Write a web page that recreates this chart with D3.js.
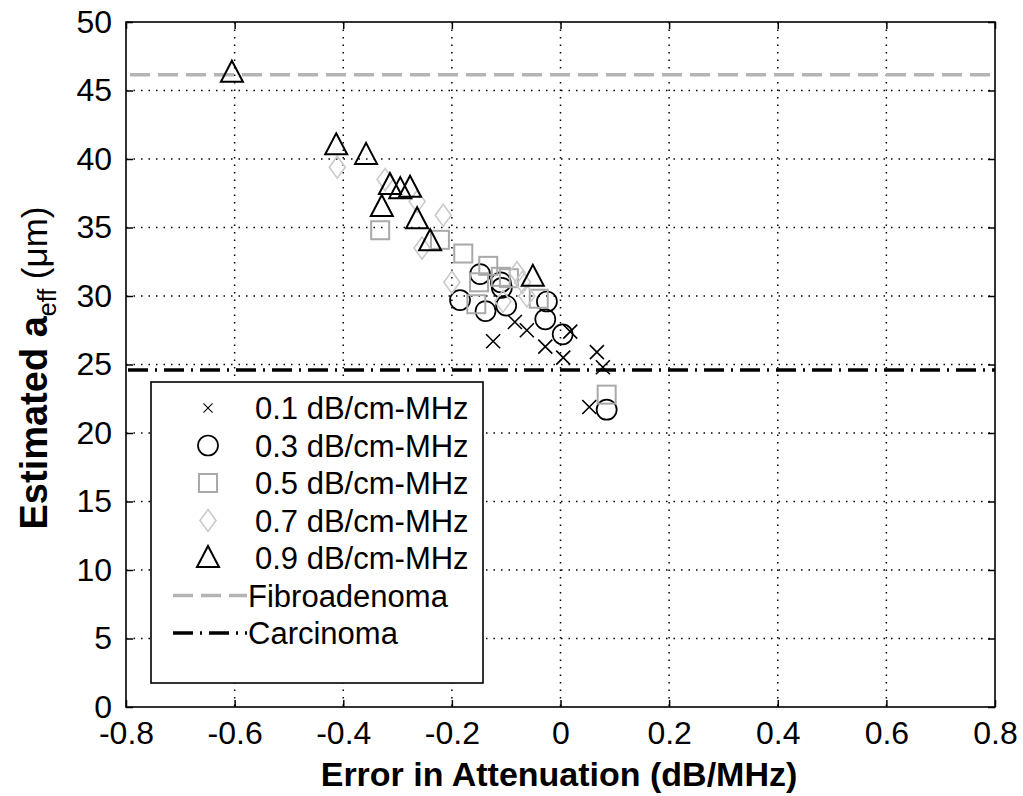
<!DOCTYPE html>
<html>
<head>
<meta charset="utf-8">
<script src="https://cdn.jsdelivr.net/npm/d3@7"></script>
<style>
  body { margin: 0; background: #fff; }
  text { font-family: "Liberation Sans", Arial, sans-serif; fill: #000; }
</style>
</head>
<body>
<div id="chart"></div>
<script>
const dimensions = ({
  height: 685,
  width: 869,
  margin: { top: 22, right: 28, bottom: 89, left: 126 }
})

// data
const xTicks = [-0.8, -0.6, -0.4, -0.2, 0, 0.2, 0.4, 0.6, 0.8]
const yTicks = [0, 5, 10, 15, 20, 25, 30, 35, 40, 45, 50]

const seriesNames = ['0.1 dB/cm-MHz', '0.3 dB/cm-MHz', '0.5 dB/cm-MHz', '0.7 dB/cm-MHz', '0.9 dB/cm-MHz']

const crossX = [-0.124, -0.084, -0.062, -0.028, 0.005, 0.018, 0.067, 0.078, 0.053]
const crossY = [26.7, 28.1, 27.5, 26.3, 25.5, 27.4, 25.9, 24.8, 21.9]

const circleX = [-0.185, -0.148, -0.138, -0.110, -0.100, -0.108, -0.025, -0.028, 0.004, 0.085]
const circleY = [29.7, 31.6, 28.9, 31.0, 29.3, 30.6, 29.6, 28.3, 27.2, 21.7]

const squareX = [-0.332, -0.222, -0.179, -0.133, -0.095, -0.150, -0.155, -0.040, -0.110, 0.085]
const squareY = [34.8, 34.1, 33.1, 32.2, 31.3, 31.0, 29.4, 29.8, 31.4, 22.8]

const diamondX = [-0.411, -0.323, -0.264, -0.216, -0.255, -0.200, -0.080, -0.106, -0.062, -0.070]
const diamondY = [39.4, 38.5, 36.9, 35.9, 33.5, 31.0, 31.7, 29.6, 30.0, 31.0]

const triangleX = [-0.605, -0.413, -0.358, -0.314, -0.295, -0.277, -0.329, -0.264, -0.240, -0.051]
const triangleY = [46.3, 41.0, 40.3, 38.1, 37.8, 37.9, 36.5, 35.6, 34.0, 31.4]

const fibroadenoma = 46.15
const carcinoma = 24.6

const x = d3.scaleLinear().domain([-0.8, 0.8]).range([0, dimensions.width])
const y = d3.scaleLinear().domain([0, 50]).range([dimensions.height, 0])

const svg = d3.select("#chart")
  .append("svg")
    .attr("width", 1023)
    .attr("height", 796)
  .append("g")
    .attr("transform", "translate(" + dimensions.margin.left + "," + dimensions.margin.top + ")")

// marker drawers: each takes a group
const markers = [
  { draw: (g) => g.append("path").attr("d", "M-7,-7L7,7M-7,7L7,-7").attr("stroke", "#000").attr("stroke-width", 1.6), x: crossX, y: crossY },
  { draw: (g) => g.append("circle").attr("r", 10).attr("fill", "none").attr("stroke", "#000").attr("stroke-width", 1.7), x: circleX, y: circleY },
  { draw: (g) => g.append("rect").attr("x", -9).attr("y", -9).attr("width", 18).attr("height", 18).attr("fill", "none").attr("stroke", "#a9a9a9").attr("stroke-width", 2), x: squareX, y: squareY },
  { draw: (g) => g.append("path").attr("d", "M0,-11L8,0L0,11L-8,0Z").attr("fill", "none").attr("stroke", "#cacaca").attr("stroke-width", 1.6), x: diamondX, y: diamondY },
  { draw: (g) => g.append("path").attr("d", "M0,-12L11,9L-11,9Z").attr("fill", "none").attr("stroke", "#000").attr("stroke-width", 2), x: triangleX, y: triangleY }
]

// grid
const grid = svg.append("g")
grid.selectAll("line.gx")
  .data(xTicks.slice(1, -1))
  .enter().append("line")
    .attr("x1", d => x(d)).attr("x2", d => x(d))
    .attr("y1", 0).attr("y2", dimensions.height)
    .attr("stroke", "#000").attr("stroke-width", 1.5)
    .attr("stroke-dasharray", "1.5,6")
grid.selectAll("line.gy")
  .data(yTicks.slice(1, -1))
  .enter().append("line")
    .attr("y1", d => y(d)).attr("y2", d => y(d))
    .attr("x1", 0).attr("x2", dimensions.width)
    .attr("stroke", "#000").attr("stroke-width", 1.5)
    .attr("stroke-dasharray", "1.5,6")

// reference lines
svg.append("line")
  .attr("x1", x(-0.8) + 4).attr("x2", x(0.8))
  .attr("y1", y(fibroadenoma)).attr("y2", y(fibroadenoma))
  .attr("stroke", "#b4b4b4").attr("stroke-width", 3.5)
  .attr("stroke-dasharray", "20,8")
svg.append("line")
  .attr("x1", x(-0.8) + 2).attr("x2", x(0.8))
  .attr("y1", y(carcinoma)).attr("y2", y(carcinoma))
  .attr("stroke", "#000").attr("stroke-width", 3.5)
  .attr("stroke-dasharray", "20,7,2,7")

// points
markers.forEach(m => {
  svg.append("g")
    .selectAll("g")
    .data(m.x.map((v, i) => [v, m.y[i]]))
    .enter().append("g")
      .attr("transform", d => "translate(" + x(d[0]) + "," + y(d[1]) + ")")
      .each(function() { m.draw(d3.select(this)) })
})

// axes with inward ticks on all sides (box)
svg.append("g")
  .attr("transform", "translate(0," + dimensions.height + ")")
  .call(d3.axisBottom(x).tickValues(xTicks).tickSize(-7).tickSizeOuter(0).tickPadding(14).tickFormat(d => String(d)))
svg.append("g")
  .call(d3.axisTop(x).tickValues(xTicks).tickSize(-7).tickSizeOuter(0).tickFormat(""))
svg.append("g")
  .call(d3.axisLeft(y).tickValues(yTicks).tickSize(-7).tickSizeOuter(0).tickPadding(14))
svg.append("g")
  .attr("transform", "translate(" + dimensions.width + ",0)")
  .call(d3.axisRight(y).tickValues(yTicks).tickSize(-7).tickSizeOuter(0).tickFormat(""))

svg.selectAll(".domain").remove()
svg.selectAll(".tick line").attr("stroke", "#000").attr("stroke-width", 1.5)
svg.selectAll(".tick text").style("font-size", "32px").attr("fill", "#000")

svg.append("rect")
  .attr("width", dimensions.width).attr("height", dimensions.height)
  .attr("fill", "none").attr("stroke", "#000").attr("stroke-width", 1.6)

// axis titles
svg.append("text")
  .attr("x", 433).attr("y", 764)
  .attr("text-anchor", "middle")
  .style("font-size", "34px").style("font-weight", "bold")
  .text("Error in Attenuation (dB/MHz)")

const yTitle = svg.append("text")
  .attr("transform", "translate(-79," + 346 + ") rotate(-90)")
  .attr("text-anchor", "middle")
  .style("font-size", "38px")
yTitle.append("tspan").style("font-weight", "bold").text("Estimated a")
yTitle.append("tspan").attr("dy", 9).style("font-size", "25px").text("eff")
yTitle.append("tspan").attr("dy", -9).style("font-size", "35px").text(" (\u03bcm)")

// legend
const legend = svg.append("g")
  .attr("transform", "translate(25, 360)")

legend.append("rect")
  .attr("width", 332).attr("height", 301)
  .attr("fill", "#fff").attr("stroke", "#000").attr("stroke-width", 1.6)

const rowH = 37.5
const legendRows = legend.selectAll("g.row")
  .data(seriesNames)
  .enter().append("g")
    .attr("transform", (d, i) => "translate(0," + (26 + i * rowH) + ")")

legendRows.each(function(d, i) {
  const g = d3.select(this).append("g").attr("transform", "translate(57,0)")
  markers[i].draw(g)
  if (i === 0) g.attr("transform", "translate(57,0) scale(0.65)")
})
legendRows.append("text")
  .attr("x", 104).attr("dy", "0.36em")
  .style("font-size", "31px")
  .text(d => d)

const lineRows = [
  { name: "Fibroadenoma", color: "#b4b4b4", dash: "20,8" },
  { name: "Carcinoma", color: "#000", dash: "20,7,2,7" }
]
const lineLegend = legend.selectAll("g.lrow")
  .data(lineRows)
  .enter().append("g")
    .attr("transform", (d, i) => "translate(0," + (26 + (5 + i) * rowH) + ")")
lineLegend.append("line")
  .attr("x1", 22).attr("x2", 96)
  .attr("stroke", d => d.color).attr("stroke-width", 3.5)
  .attr("stroke-dasharray", d => d.dash)
lineLegend.append("text")
  .attr("x", 97).attr("dy", "0.36em")
  .style("font-size", "31px")
  .text(d => d.name)
</script>
</body>
</html>
